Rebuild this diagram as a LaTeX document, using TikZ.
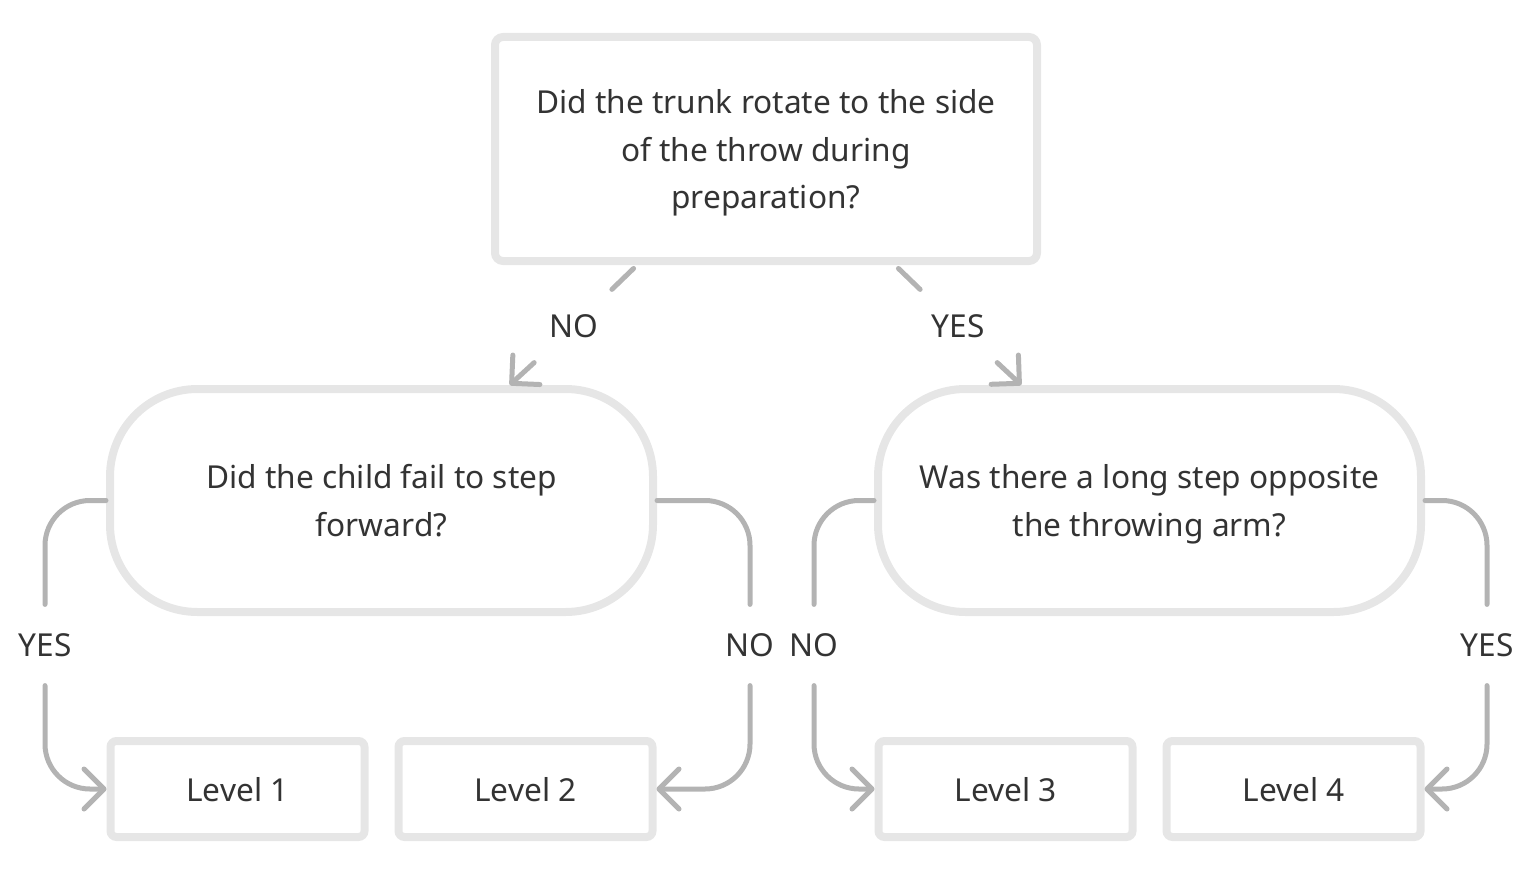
\documentclass[tikz,border=0pt]{standalone}
\usepackage{fontspec}
\setmainfont{Noto Sans}
\usetikzlibrary{positioning, arrows.meta}
\definecolor{boxgray}{HTML}{E6E6E6}
\definecolor{linegray}{HTML}{B3B3B3}
\definecolor{textgray}{HTML}{333333}

\begin{document}
\begin{tikzpicture}[node distance=3cm, on grid,
      >={Straight Barb[length=0.4cm, width=0.8cm, round]},
      question/.style={draw=boxgray, line width=0.16cm, rounded corners=0.16cm, inner sep=0pt,
        minimum width=10.84cm, minimum height=4.48cm, align=center, text=textgray, text depth=0pt,
        font=\fontsize{18}{27.3}\selectfont},
      pill/.style={question, rounded corners=1.75cm, minimum width=10.86cm, minimum height=4.46cm},
      level/.style={question, rounded corners=0.12cm, minimum width=5.08cm, minimum height=1.92cm},
      conn/.style={draw=linegray, line width=0.1cm, ->, line cap=round, rounded corners=0.9cm},
      lbl/.style={text=textgray, inner sep=0.5cm, outer sep=0pt, font=\fontsize{18}{27.3}\selectfont},
      vlbl/.style={lbl, inner xsep=1pt, inner ysep=0.58cm}]
      \useasboundingbox (0,0) rectangle (30.78,-17.44);
      \node[question] (trunk) at (15.32,-2.98) {Did the trunk rotate to the side\\ of the throw during\\ preparation?};
      \node[pill, below left=7.03cm and 7.69cm of trunk] (step) {Did the child fail to step\\ forward?};
      \node[pill, below right=7.03cm and 7.67cm of trunk] (long) {Was there a long step opposite\\ the throwing arm?};
      \node[level, below left=5.77cm and 2.88cm of step] (lv1) {Level 1};
      \node[level, below right=5.77cm and 2.88cm of step] (lv2) {Level 2};
      \node[level, below left=5.77cm and 2.88cm of long] (lv3) {Level 3};
      \node[level, below right=5.77cm and 2.88cm of long] (lv4) {Level 4};
      % answer labels
      \node[lbl, below left=3.54cm and 3.84cm of trunk] (no0) {NO};
      \node[lbl, below right=3.54cm and 3.84cm of trunk] (yes0) {YES};
      \node[vlbl, below left=2.89cm and 1.22cm of step.west, anchor=center] (yes1) {YES};
      \node[vlbl, below right=2.89cm and 1.86cm of step.east, anchor=center] (no1) {NO};
      \node[vlbl, below left=2.89cm and 1.2cm of long.west, anchor=center] (no2) {NO};
      \node[vlbl, below right=2.89cm and 1.24cm of long.east, anchor=center] (yes2) {YES};
      \draw[conn, -, shorten <=0.1cm] (trunk.222) -- (no0);
      \draw[conn] (no0) -- (step.42);
      \draw[conn, -, shorten <=0.1cm] (trunk.318) -- (yes0);
      \draw[conn] (yes0) -- (long.138);
      \draw[conn, -] (step.west) -| (yes1.north);
      \draw[conn] (yes1.south) |- (lv1.west);
      \draw[conn, -] (step.east) -| (no1.north);
      \draw[conn] (no1.south) |- (lv2.east);
      \draw[conn, -] (long.west) -| (no2.north);
      \draw[conn] (no2.south) |- (lv3.west);
      \draw[conn, -] (long.east) -| (yes2.north);
      \draw[conn] (yes2.south) |- (lv4.east);
\end{tikzpicture}
\end{document}
